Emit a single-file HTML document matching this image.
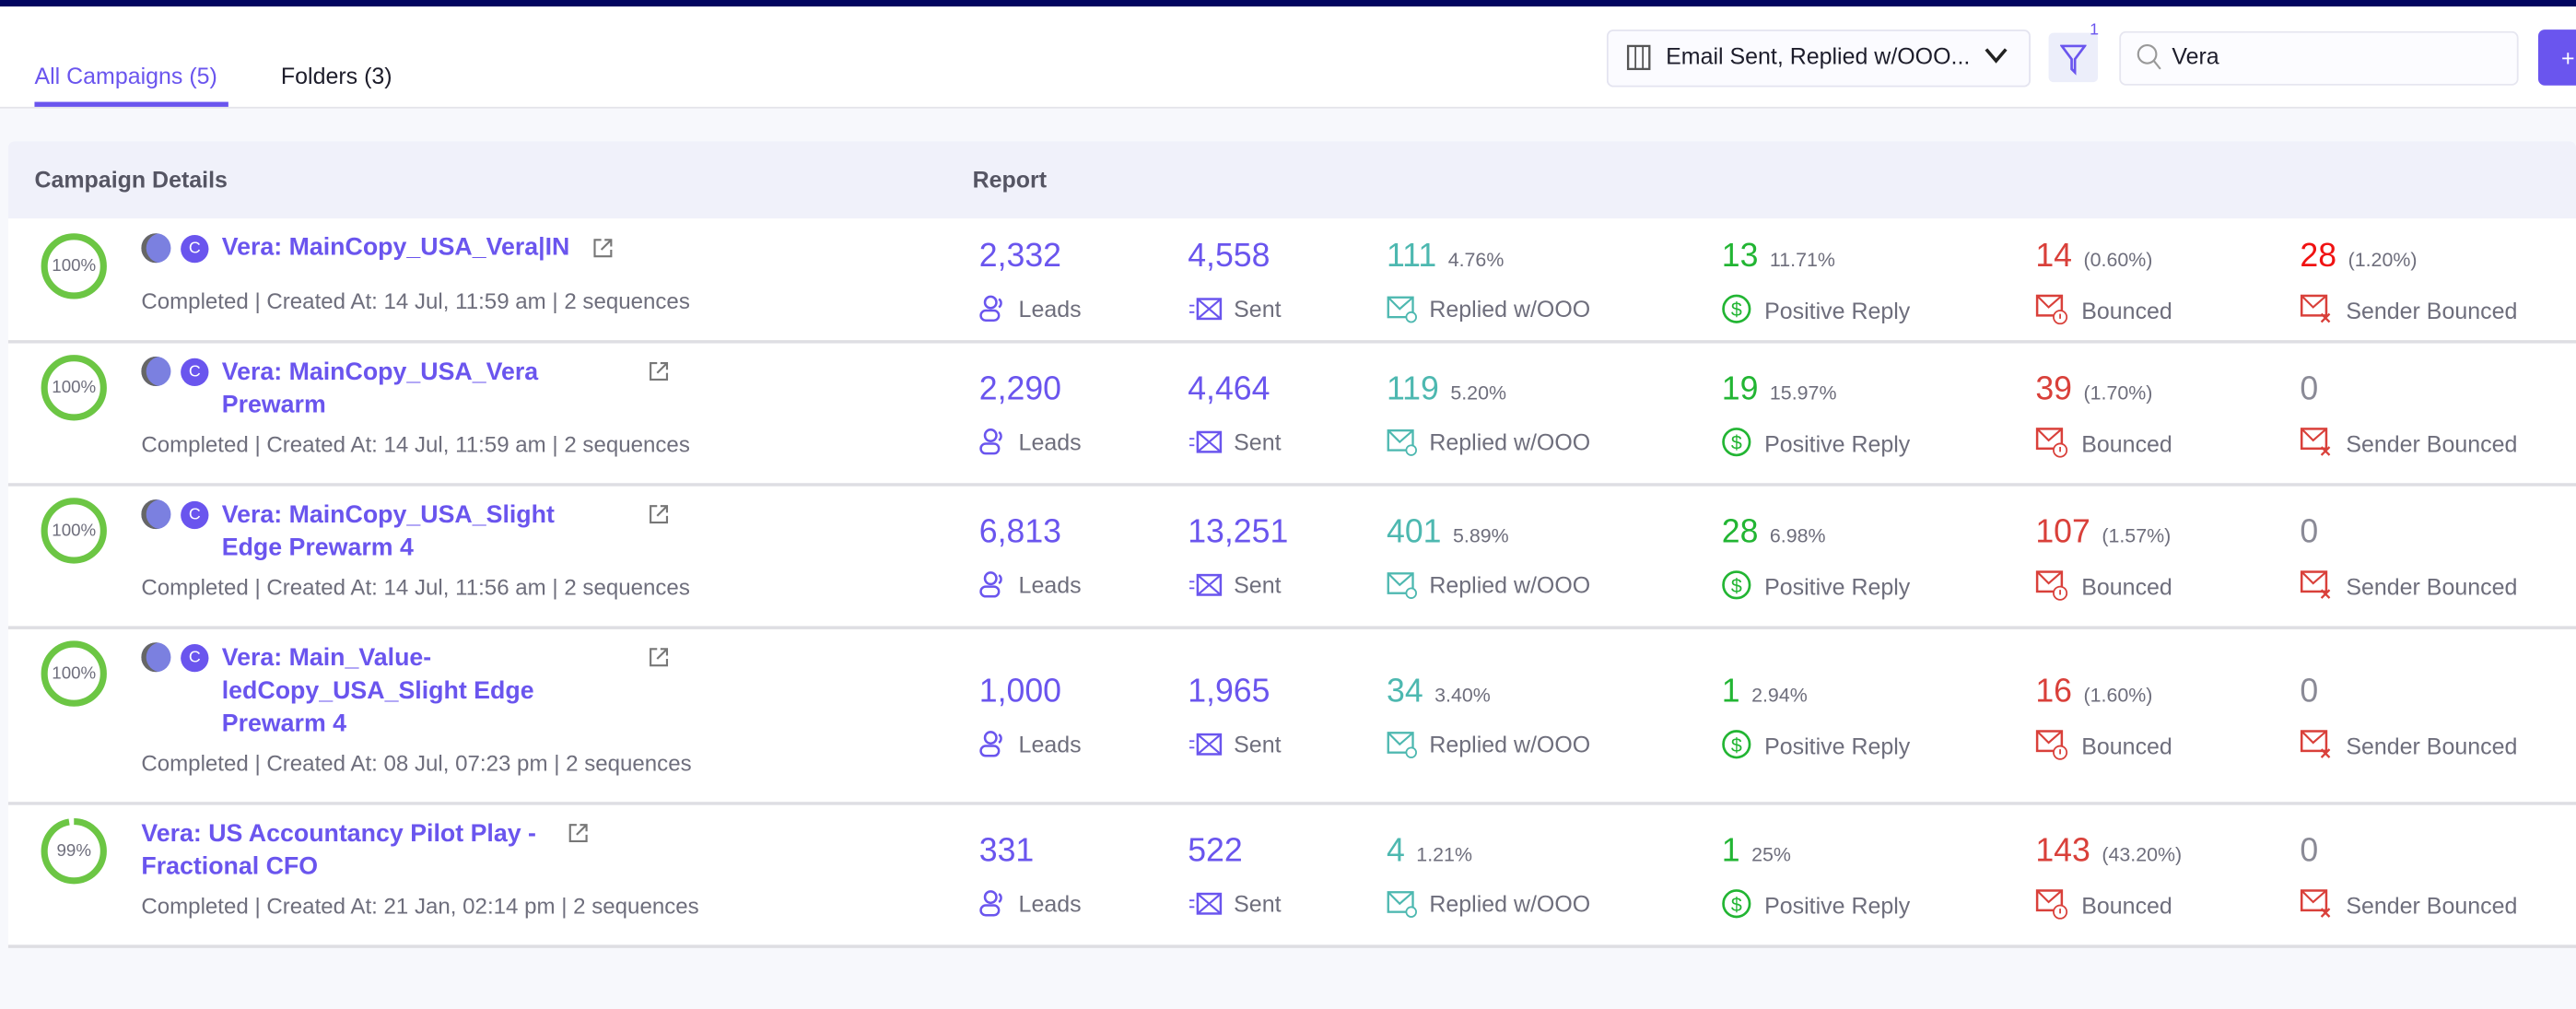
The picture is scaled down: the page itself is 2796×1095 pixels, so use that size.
<!DOCTYPE html>
<html><head><meta charset="utf-8"><style>
html,body{margin:0;padding:0;width:2796px;height:1094px;overflow:hidden;background:#f7f8fc;}
#w{position:absolute;left:0;top:0;width:1568px;height:614px;transform:scale(1.78316);transform-origin:0 0;font-family:"Liberation Sans",sans-serif;background:#f7f8fc;}
.a{position:absolute;white-space:nowrap;line-height:20px;}
.t{color:#6a55ee;font-size:15px;font-weight:bold;}
.meta{color:#6e6e7c;font-size:13.5px;}
.n{font-size:20px;}
.p{font-size:12px;color:#6e6e7c;margin-left:7px;}
.l{font-size:14px;color:#6e6e7c;}
.l svg{vertical-align:-4px;margin-right:6px;}
.row{position:absolute;left:5px;width:1563px;background:#fff;border-bottom:2px solid #dedee3;}
.circ{position:absolute;}
.pct{position:absolute;font-size:10.5px;color:#6e6e7c;width:40px;text-align:center;line-height:12px;}
</style></head><body><div id="w">
<div style="position:absolute;left:0;top:0;width:1568px;height:4px;background:#020660"></div>
<div style="position:absolute;left:0;top:4px;width:1568px;height:61px;background:#fff;border-bottom:1px solid #e4e4ea"></div>
<div class="a" style="left:21px;top:36px;font-size:14px;color:#6a55ee">All Campaigns (5)</div>
<div style="position:absolute;left:21px;top:62px;width:118px;height:3px;background:#6a55ee"></div>
<div class="a" style="left:171px;top:36px;font-size:14px;color:#1d1d2b">Folders (3)</div>
<div style="position:absolute;left:978px;top:18px;width:256px;height:33px;border:1px solid #e4e4f0;border-radius:4px;background:#fbfbff"></div>
<svg style="position:absolute;left:990px;top:27px" width="16" height="16"><rect x="1" y="1" width="13" height="14" fill="none" stroke="#555" stroke-width="1.3"/><line x1="5.5" y1="1" x2="5.5" y2="15" stroke="#555"/><line x1="10" y1="1" x2="10" y2="15" stroke="#555"/></svg>
<div class="a" style="left:1014px;top:24px;font-size:14px;color:#1d1d2b">Email Sent, Replied w/OOO...</div>
<svg style="position:absolute;left:1207px;top:28px" width="16" height="12"><polyline points="2,2 8,9 14,2" fill="none" stroke="#222" stroke-width="2"/></svg>
<div style="position:absolute;left:1247px;top:20px;width:30px;height:30px;background:#eceefa;border-radius:3px"></div>
<svg style="position:absolute;left:1254px;top:26px" width="16" height="20"><path d="M1,2 H15 L9,10 V18 L7,16 V10 Z" fill="none" stroke="#6a55ee" stroke-width="1.5"/></svg>
<div class="a" style="left:1272px;top:9px;font-size:10px;color:#6a55ee">1</div>
<div style="position:absolute;left:1290px;top:19px;width:241px;height:31px;border:1px solid #e6e6f0;border-radius:4px;background:#fcfcff"></div>
<svg style="position:absolute;left:1300px;top:26px" width="16" height="18"><circle cx="7" cy="7" r="5.5" fill="none" stroke="#999" stroke-width="1.2"/><line x1="11" y1="11" x2="15" y2="16" stroke="#999" stroke-width="1.2"/></svg>
<div class="a" style="left:1322px;top:24px;font-size:14px;color:#1d1d2b">Vera</div>
<div style="position:absolute;left:1545px;top:18px;width:30px;height:34px;background:#6a55ee;border-radius:4px"></div>
<div class="a" style="left:1559px;top:25px;font-size:14px;color:#fff">+</div>

<div style="position:absolute;left:5px;top:86px;width:1563px;height:47px;background:#f0f1fa;border-radius:4px 4px 0 0"></div>
<div class="a" style="left:21px;top:99px;font-size:14px;font-weight:bold;color:#555563">Campaign Details</div>
<div class="a" style="left:592px;top:99px;font-size:14px;font-weight:bold;color:#555563">Report</div>

<div class="row" style="top:133px;height:74px"></div>
<div class="row" style="top:209px;height:85px"></div>
<div class="row" style="top:296px;height:85px"></div>
<div class="row" style="top:383px;height:105px"></div>
<div class="row" style="top:490px;height:85px"></div>

<svg class="circ" style="left:24px;top:141px" width="42" height="42"><circle cx="21" cy="21" r="18" fill="none" stroke="#6cc644" stroke-width="4"/></svg><div class="pct" style="left:25px;top:156px">100%</div>
<svg class="circ" style="left:24px;top:215px" width="42" height="42"><circle cx="21" cy="21" r="18" fill="none" stroke="#6cc644" stroke-width="4"/></svg><div class="pct" style="left:25px;top:230px">100%</div>
<svg class="circ" style="left:24px;top:302px" width="42" height="42"><circle cx="21" cy="21" r="18" fill="none" stroke="#6cc644" stroke-width="4"/></svg><div class="pct" style="left:25px;top:317px">100%</div>
<svg class="circ" style="left:24px;top:389px" width="42" height="42"><circle cx="21" cy="21" r="18" fill="none" stroke="#6cc644" stroke-width="4"/></svg><div class="pct" style="left:25px;top:404px">100%</div>
<svg class="circ" style="left:24px;top:497px" width="42" height="42"><circle cx="21" cy="21" r="18" fill="none" stroke="#6cc644" stroke-width="4" stroke-dasharray="110 3" transform="rotate(-90 21 21)"/></svg><div class="pct" style="left:25px;top:512px">99%</div>

<div style="position:absolute;left:86px;top:142px;width:18px;height:18px;border-radius:50%;background:#7b80e0;box-shadow:inset 3px 0 0 #666"></div><div style="position:absolute;left:110px;top:143px;width:17px;height:17px;border-radius:50%;background:#6a55ee;color:#fff;font-size:10px;text-align:center;line-height:17px">C</div>
<div style="position:absolute;left:86px;top:217px;width:18px;height:18px;border-radius:50%;background:#7b80e0;box-shadow:inset 3px 0 0 #666"></div><div style="position:absolute;left:110px;top:218px;width:17px;height:17px;border-radius:50%;background:#6a55ee;color:#fff;font-size:10px;text-align:center;line-height:17px">C</div>
<div style="position:absolute;left:86px;top:304px;width:18px;height:18px;border-radius:50%;background:#7b80e0;box-shadow:inset 3px 0 0 #666"></div><div style="position:absolute;left:110px;top:305px;width:17px;height:17px;border-radius:50%;background:#6a55ee;color:#fff;font-size:10px;text-align:center;line-height:17px">C</div>
<div style="position:absolute;left:86px;top:391px;width:18px;height:18px;border-radius:50%;background:#7b80e0;box-shadow:inset 3px 0 0 #666"></div><div style="position:absolute;left:110px;top:392px;width:17px;height:17px;border-radius:50%;background:#6a55ee;color:#fff;font-size:10px;text-align:center;line-height:17px">C</div>

<div class="a t" style="left:135px;top:141px">Vera: MainCopy_USA_Vera|IN</div>
<svg style="position:absolute;left:360px;top:144px" width="14" height="14"><path d="M6,2 H2 V12 H12 V8 M8,2 H12 V6 M12,2 L6,8" fill="none" stroke="#777" stroke-width="1.2"/></svg>
<div class="a t" style="left:135px;top:217px">Vera: MainCopy_USA_Vera</div>
<div class="a t" style="left:135px;top:237px">Prewarm</div>
<svg style="position:absolute;left:394px;top:219px" width="14" height="14"><path d="M6,2 H2 V12 H12 V8 M8,2 H12 V6 M12,2 L6,8" fill="none" stroke="#777" stroke-width="1.2"/></svg>
<div class="a t" style="left:135px;top:304px">Vera: MainCopy_USA_Slight</div>
<div class="a t" style="left:135px;top:324px">Edge Prewarm 4</div>
<svg style="position:absolute;left:394px;top:306px" width="14" height="14"><path d="M6,2 H2 V12 H12 V8 M8,2 H12 V6 M12,2 L6,8" fill="none" stroke="#777" stroke-width="1.2"/></svg>
<div class="a t" style="left:135px;top:391px">Vera: Main_Value-</div>
<div class="a t" style="left:135px;top:411px">ledCopy_USA_Slight Edge</div>
<div class="a t" style="left:135px;top:431px">Prewarm 4</div>
<svg style="position:absolute;left:394px;top:393px" width="14" height="14"><path d="M6,2 H2 V12 H12 V8 M8,2 H12 V6 M12,2 L6,8" fill="none" stroke="#777" stroke-width="1.2"/></svg>
<div class="a t" style="left:86px;top:498px">Vera: US Accountancy Pilot Play -</div>
<div class="a t" style="left:86px;top:518px">Fractional CFO</div>
<svg style="position:absolute;left:345px;top:500px" width="14" height="14"><path d="M6,2 H2 V12 H12 V8 M8,2 H12 V6 M12,2 L6,8" fill="none" stroke="#777" stroke-width="1.2"/></svg>

<div class="a meta" style="left:86px;top:174px">Completed | Created At: 14 Jul, 11:59 am | 2 sequences</div>
<div class="a meta" style="left:86px;top:261px">Completed | Created At: 14 Jul, 11:59 am | 2 sequences</div>
<div class="a meta" style="left:86px;top:348px">Completed | Created At: 14 Jul, 11:56 am | 2 sequences</div>
<div class="a meta" style="left:86px;top:455px">Completed | Created At: 08 Jul, 07:23 pm | 2 sequences</div>
<div class="a meta" style="left:86px;top:542px">Completed | Created At: 21 Jan, 02:14 pm | 2 sequences</div>

<div class="a n" style="left:596px;top:146px;color:#6a55ee">2,332</div>
<div class="a n" style="left:723px;top:146px;color:#6a55ee">4,558</div>
<div class="a n" style="left:844px;top:146px;color:#4db8b0">111<span class="p">4.76%</span></div>
<div class="a n" style="left:1048px;top:146px;color:#22b533">13<span class="p">11.71%</span></div>
<div class="a n" style="left:1239px;top:146px;color:#d9403a">14<span class="p">(0.60%)</span></div>
<div class="a n" style="left:1400px;top:146px;color:#f01212">28<span class="p">(1.20%)</span></div>
<div class="a n" style="left:596px;top:227px;color:#6a55ee">2,290</div>
<div class="a n" style="left:723px;top:227px;color:#6a55ee">4,464</div>
<div class="a n" style="left:844px;top:227px;color:#4db8b0">119<span class="p">5.20%</span></div>
<div class="a n" style="left:1048px;top:227px;color:#22b533">19<span class="p">15.97%</span></div>
<div class="a n" style="left:1239px;top:227px;color:#d9403a">39<span class="p">(1.70%)</span></div>
<div class="a n" style="left:1400px;top:227px;color:#8a8a96">0</div>
<div class="a n" style="left:596px;top:314px;color:#6a55ee">6,813</div>
<div class="a n" style="left:723px;top:314px;color:#6a55ee">13,251</div>
<div class="a n" style="left:844px;top:314px;color:#4db8b0">401<span class="p">5.89%</span></div>
<div class="a n" style="left:1048px;top:314px;color:#22b533">28<span class="p">6.98%</span></div>
<div class="a n" style="left:1239px;top:314px;color:#d9403a">107<span class="p">(1.57%)</span></div>
<div class="a n" style="left:1400px;top:314px;color:#8a8a96">0</div>
<div class="a n" style="left:596px;top:411px;color:#6a55ee">1,000</div>
<div class="a n" style="left:723px;top:411px;color:#6a55ee">1,965</div>
<div class="a n" style="left:844px;top:411px;color:#4db8b0">34<span class="p">3.40%</span></div>
<div class="a n" style="left:1048px;top:411px;color:#22b533">1<span class="p">2.94%</span></div>
<div class="a n" style="left:1239px;top:411px;color:#d9403a">16<span class="p">(1.60%)</span></div>
<div class="a n" style="left:1400px;top:411px;color:#8a8a96">0</div>
<div class="a n" style="left:596px;top:508px;color:#6a55ee">331</div>
<div class="a n" style="left:723px;top:508px;color:#6a55ee">522</div>
<div class="a n" style="left:844px;top:508px;color:#4db8b0">4<span class="p">1.21%</span></div>
<div class="a n" style="left:1048px;top:508px;color:#22b533">1<span class="p">25%</span></div>
<div class="a n" style="left:1239px;top:508px;color:#d9403a">143<span class="p">(43.20%)</span></div>
<div class="a n" style="left:1400px;top:508px;color:#8a8a96">0</div>

<div class="a l" style="left:596px;top:178px"><svg width="18" height="18"><circle cx="7" cy="5" r="3.5" fill="none" stroke="#6a55ee" stroke-width="1.4"/><rect x="1" y="10" width="11" height="6" rx="3" fill="none" stroke="#6a55ee" stroke-width="1.4"/><path d="M12,3 a3,3 0 0 1 0,5" fill="none" stroke="#6a55ee" stroke-width="1.4"/></svg>Leads</div>
<div class="a l" style="left:723px;top:178px"><svg width="22" height="18"><rect x="6" y="3" width="14" height="12" fill="none" stroke="#6a55ee" stroke-width="1.4"/><path d="M6,3 L20,15 M20,3 L6,15" stroke="#6a55ee" stroke-width="1.2"/><line x1="1" y1="7" x2="4" y2="7" stroke="#6a55ee"/><line x1="1" y1="11" x2="4" y2="11" stroke="#6a55ee"/></svg>Sent</div>
<div class="a l" style="left:844px;top:178px"><svg width="20" height="18"><rect x="1" y="2" width="15" height="12" fill="none" stroke="#4db8b0" stroke-width="1.3"/><path d="M1,2 L8,9 L16,2" fill="none" stroke="#4db8b0" stroke-width="1.2"/><circle cx="15" cy="14" r="3" fill="#fff" stroke="#4db8b0"/></svg>Replied w/OOO</div>
<div class="a l" style="left:1048px;top:178px"><svg width="20" height="20"><circle cx="9" cy="10" r="8" fill="none" stroke="#22b533" stroke-width="1.5"/><text x="9" y="14.5" font-size="12" text-anchor="middle" fill="#22b533" font-family="Liberation Sans">$</text></svg>Positive Reply</div>
<div class="a l" style="left:1239px;top:178px"><svg width="22" height="20"><rect x="1" y="2" width="15" height="12" fill="none" stroke="#d9403a" stroke-width="1.4"/><path d="M1,2 L8,9 L16,2" fill="none" stroke="#d9403a" stroke-width="1.2"/><circle cx="15" cy="15" r="4" fill="#fff" stroke="#d9403a"/><line x1="15" y1="13" x2="15" y2="16" stroke="#d9403a"/></svg>Bounced</div>
<div class="a l" style="left:1400px;top:178px"><svg width="22" height="20"><rect x="1" y="2" width="15" height="12" fill="none" stroke="#d9403a" stroke-width="1.4"/><path d="M1,2 L8,9 L16,2" fill="none" stroke="#d9403a" stroke-width="1.2"/><path d="M13,13 L18,18 M18,13 L13,18" stroke="#d9403a" stroke-width="1.3"/></svg>Sender Bounced</div>

<div class="a l" style="left:596px;top:259px"><svg width="18" height="18"><circle cx="7" cy="5" r="3.5" fill="none" stroke="#6a55ee" stroke-width="1.4"/><rect x="1" y="10" width="11" height="6" rx="3" fill="none" stroke="#6a55ee" stroke-width="1.4"/><path d="M12,3 a3,3 0 0 1 0,5" fill="none" stroke="#6a55ee" stroke-width="1.4"/></svg>Leads</div>
<div class="a l" style="left:723px;top:259px"><svg width="22" height="18"><rect x="6" y="3" width="14" height="12" fill="none" stroke="#6a55ee" stroke-width="1.4"/><path d="M6,3 L20,15 M20,3 L6,15" stroke="#6a55ee" stroke-width="1.2"/><line x1="1" y1="7" x2="4" y2="7" stroke="#6a55ee"/><line x1="1" y1="11" x2="4" y2="11" stroke="#6a55ee"/></svg>Sent</div>
<div class="a l" style="left:844px;top:259px"><svg width="20" height="18"><rect x="1" y="2" width="15" height="12" fill="none" stroke="#4db8b0" stroke-width="1.3"/><path d="M1,2 L8,9 L16,2" fill="none" stroke="#4db8b0" stroke-width="1.2"/><circle cx="15" cy="14" r="3" fill="#fff" stroke="#4db8b0"/></svg>Replied w/OOO</div>
<div class="a l" style="left:1048px;top:259px"><svg width="20" height="20"><circle cx="9" cy="10" r="8" fill="none" stroke="#22b533" stroke-width="1.5"/><text x="9" y="14.5" font-size="12" text-anchor="middle" fill="#22b533" font-family="Liberation Sans">$</text></svg>Positive Reply</div>
<div class="a l" style="left:1239px;top:259px"><svg width="22" height="20"><rect x="1" y="2" width="15" height="12" fill="none" stroke="#d9403a" stroke-width="1.4"/><path d="M1,2 L8,9 L16,2" fill="none" stroke="#d9403a" stroke-width="1.2"/><circle cx="15" cy="15" r="4" fill="#fff" stroke="#d9403a"/><line x1="15" y1="13" x2="15" y2="16" stroke="#d9403a"/></svg>Bounced</div>
<div class="a l" style="left:1400px;top:259px"><svg width="22" height="20"><rect x="1" y="2" width="15" height="12" fill="none" stroke="#d9403a" stroke-width="1.4"/><path d="M1,2 L8,9 L16,2" fill="none" stroke="#d9403a" stroke-width="1.2"/><path d="M13,13 L18,18 M18,13 L13,18" stroke="#d9403a" stroke-width="1.3"/></svg>Sender Bounced</div>

<div class="a l" style="left:596px;top:346px"><svg width="18" height="18"><circle cx="7" cy="5" r="3.5" fill="none" stroke="#6a55ee" stroke-width="1.4"/><rect x="1" y="10" width="11" height="6" rx="3" fill="none" stroke="#6a55ee" stroke-width="1.4"/><path d="M12,3 a3,3 0 0 1 0,5" fill="none" stroke="#6a55ee" stroke-width="1.4"/></svg>Leads</div>
<div class="a l" style="left:723px;top:346px"><svg width="22" height="18"><rect x="6" y="3" width="14" height="12" fill="none" stroke="#6a55ee" stroke-width="1.4"/><path d="M6,3 L20,15 M20,3 L6,15" stroke="#6a55ee" stroke-width="1.2"/><line x1="1" y1="7" x2="4" y2="7" stroke="#6a55ee"/><line x1="1" y1="11" x2="4" y2="11" stroke="#6a55ee"/></svg>Sent</div>
<div class="a l" style="left:844px;top:346px"><svg width="20" height="18"><rect x="1" y="2" width="15" height="12" fill="none" stroke="#4db8b0" stroke-width="1.3"/><path d="M1,2 L8,9 L16,2" fill="none" stroke="#4db8b0" stroke-width="1.2"/><circle cx="15" cy="14" r="3" fill="#fff" stroke="#4db8b0"/></svg>Replied w/OOO</div>
<div class="a l" style="left:1048px;top:346px"><svg width="20" height="20"><circle cx="9" cy="10" r="8" fill="none" stroke="#22b533" stroke-width="1.5"/><text x="9" y="14.5" font-size="12" text-anchor="middle" fill="#22b533" font-family="Liberation Sans">$</text></svg>Positive Reply</div>
<div class="a l" style="left:1239px;top:346px"><svg width="22" height="20"><rect x="1" y="2" width="15" height="12" fill="none" stroke="#d9403a" stroke-width="1.4"/><path d="M1,2 L8,9 L16,2" fill="none" stroke="#d9403a" stroke-width="1.2"/><circle cx="15" cy="15" r="4" fill="#fff" stroke="#d9403a"/><line x1="15" y1="13" x2="15" y2="16" stroke="#d9403a"/></svg>Bounced</div>
<div class="a l" style="left:1400px;top:346px"><svg width="22" height="20"><rect x="1" y="2" width="15" height="12" fill="none" stroke="#d9403a" stroke-width="1.4"/><path d="M1,2 L8,9 L16,2" fill="none" stroke="#d9403a" stroke-width="1.2"/><path d="M13,13 L18,18 M18,13 L13,18" stroke="#d9403a" stroke-width="1.3"/></svg>Sender Bounced</div>

<div class="a l" style="left:596px;top:443px"><svg width="18" height="18"><circle cx="7" cy="5" r="3.5" fill="none" stroke="#6a55ee" stroke-width="1.4"/><rect x="1" y="10" width="11" height="6" rx="3" fill="none" stroke="#6a55ee" stroke-width="1.4"/><path d="M12,3 a3,3 0 0 1 0,5" fill="none" stroke="#6a55ee" stroke-width="1.4"/></svg>Leads</div>
<div class="a l" style="left:723px;top:443px"><svg width="22" height="18"><rect x="6" y="3" width="14" height="12" fill="none" stroke="#6a55ee" stroke-width="1.4"/><path d="M6,3 L20,15 M20,3 L6,15" stroke="#6a55ee" stroke-width="1.2"/><line x1="1" y1="7" x2="4" y2="7" stroke="#6a55ee"/><line x1="1" y1="11" x2="4" y2="11" stroke="#6a55ee"/></svg>Sent</div>
<div class="a l" style="left:844px;top:443px"><svg width="20" height="18"><rect x="1" y="2" width="15" height="12" fill="none" stroke="#4db8b0" stroke-width="1.3"/><path d="M1,2 L8,9 L16,2" fill="none" stroke="#4db8b0" stroke-width="1.2"/><circle cx="15" cy="14" r="3" fill="#fff" stroke="#4db8b0"/></svg>Replied w/OOO</div>
<div class="a l" style="left:1048px;top:443px"><svg width="20" height="20"><circle cx="9" cy="10" r="8" fill="none" stroke="#22b533" stroke-width="1.5"/><text x="9" y="14.5" font-size="12" text-anchor="middle" fill="#22b533" font-family="Liberation Sans">$</text></svg>Positive Reply</div>
<div class="a l" style="left:1239px;top:443px"><svg width="22" height="20"><rect x="1" y="2" width="15" height="12" fill="none" stroke="#d9403a" stroke-width="1.4"/><path d="M1,2 L8,9 L16,2" fill="none" stroke="#d9403a" stroke-width="1.2"/><circle cx="15" cy="15" r="4" fill="#fff" stroke="#d9403a"/><line x1="15" y1="13" x2="15" y2="16" stroke="#d9403a"/></svg>Bounced</div>
<div class="a l" style="left:1400px;top:443px"><svg width="22" height="20"><rect x="1" y="2" width="15" height="12" fill="none" stroke="#d9403a" stroke-width="1.4"/><path d="M1,2 L8,9 L16,2" fill="none" stroke="#d9403a" stroke-width="1.2"/><path d="M13,13 L18,18 M18,13 L13,18" stroke="#d9403a" stroke-width="1.3"/></svg>Sender Bounced</div>

<div class="a l" style="left:596px;top:540px"><svg width="18" height="18"><circle cx="7" cy="5" r="3.5" fill="none" stroke="#6a55ee" stroke-width="1.4"/><rect x="1" y="10" width="11" height="6" rx="3" fill="none" stroke="#6a55ee" stroke-width="1.4"/><path d="M12,3 a3,3 0 0 1 0,5" fill="none" stroke="#6a55ee" stroke-width="1.4"/></svg>Leads</div>
<div class="a l" style="left:723px;top:540px"><svg width="22" height="18"><rect x="6" y="3" width="14" height="12" fill="none" stroke="#6a55ee" stroke-width="1.4"/><path d="M6,3 L20,15 M20,3 L6,15" stroke="#6a55ee" stroke-width="1.2"/><line x1="1" y1="7" x2="4" y2="7" stroke="#6a55ee"/><line x1="1" y1="11" x2="4" y2="11" stroke="#6a55ee"/></svg>Sent</div>
<div class="a l" style="left:844px;top:540px"><svg width="20" height="18"><rect x="1" y="2" width="15" height="12" fill="none" stroke="#4db8b0" stroke-width="1.3"/><path d="M1,2 L8,9 L16,2" fill="none" stroke="#4db8b0" stroke-width="1.2"/><circle cx="15" cy="14" r="3" fill="#fff" stroke="#4db8b0"/></svg>Replied w/OOO</div>
<div class="a l" style="left:1048px;top:540px"><svg width="20" height="20"><circle cx="9" cy="10" r="8" fill="none" stroke="#22b533" stroke-width="1.5"/><text x="9" y="14.5" font-size="12" text-anchor="middle" fill="#22b533" font-family="Liberation Sans">$</text></svg>Positive Reply</div>
<div class="a l" style="left:1239px;top:540px"><svg width="22" height="20"><rect x="1" y="2" width="15" height="12" fill="none" stroke="#d9403a" stroke-width="1.4"/><path d="M1,2 L8,9 L16,2" fill="none" stroke="#d9403a" stroke-width="1.2"/><circle cx="15" cy="15" r="4" fill="#fff" stroke="#d9403a"/><line x1="15" y1="13" x2="15" y2="16" stroke="#d9403a"/></svg>Bounced</div>
<div class="a l" style="left:1400px;top:540px"><svg width="22" height="20"><rect x="1" y="2" width="15" height="12" fill="none" stroke="#d9403a" stroke-width="1.4"/><path d="M1,2 L8,9 L16,2" fill="none" stroke="#d9403a" stroke-width="1.2"/><path d="M13,13 L18,18 M18,13 L13,18" stroke="#d9403a" stroke-width="1.3"/></svg>Sender Bounced</div>
</div></body></html>
